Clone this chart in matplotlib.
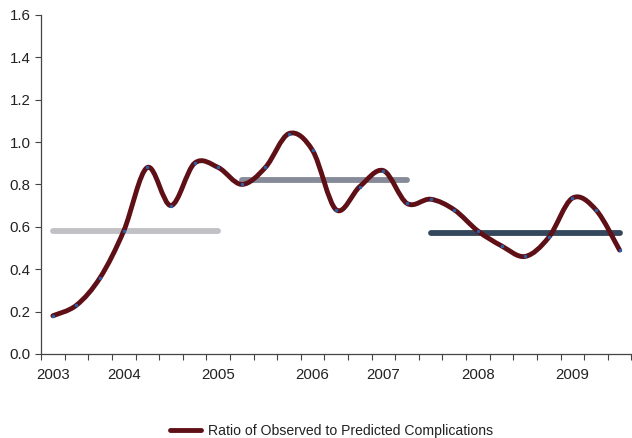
import matplotlib
matplotlib.use("Agg")
import matplotlib.pyplot as plt
import numpy as np
from matplotlib.path import Path
from matplotlib.patches import PathPatch
from matplotlib.lines import Line2D

categories = ["2003", "", "", "2004", "", "", "", "2005", "", "", "", "2006", "", "", "2007",
              "", "", "", "2008", "", "", "", "2009", "", ""]
ratio = [0.18, 0.23, 0.36, 0.58, 0.88, 0.70, 0.90, 0.88, 0.80, 0.88, 1.04, 0.96, 0.68, 0.79, 0.865,
         0.71, 0.73, 0.68, 0.58, 0.51, 0.46, 0.55, 0.735, 0.68, 0.49]
period_levels = [0.58, 0.82, 0.57]
period_ranges = [(0, 7), (8, 15), (16, 24)]
period_colors = ["#c0c0c5", "#878a98", "#35475c"]

plt.rcParams['font.family'] = ['Liberation Sans', 'DejaVu Sans']

fig = plt.figure(figsize=(6.32, 4.38), dpi=100)
ax = fig.add_axes([0.065, 0.192, 0.934, 0.774])

x = np.arange(len(ratio))
y = np.array(ratio, dtype=float)

# period average lines
for lvl, (a, b), c in zip(period_levels, period_ranges, period_colors):
    ax.plot([a, b], [lvl, lvl], color=c, lw=4.2, solid_capstyle='round', zorder=2)

# smoothed line (Catmull-Rom bezier, like spreadsheet smoothing)
verts = [(x[0], y[0])]
codes = [Path.MOVETO]
n = len(x)
for i in range(n - 1):
    p0 = np.array([x[max(i - 1, 0)], y[max(i - 1, 0)]])
    p1 = np.array([x[i], y[i]])
    p2 = np.array([x[i + 1], y[i + 1]])
    p3 = np.array([x[min(i + 2, n - 1)], y[min(i + 2, n - 1)]])
    c1 = p1 + (p2 - p0) / 6.0
    c2 = p2 - (p3 - p1) / 6.0
    verts += [tuple(c1), tuple(c2), tuple(p2)]
    codes += [Path.CURVE4] * 3
patch = PathPatch(Path(verts, codes), facecolor='none', edgecolor='#5e1016', lw=3.5,
                  capstyle='round', joinstyle='round', zorder=3)
ax.add_patch(patch)
ax.plot(x, y, linestyle='none', marker='s', markersize=1.3, color='#2a5fa8', zorder=4)

ax.set_xlim(-0.5, n - 0.5)
ax.set_ylim(0, 1.6)
ax.set_yticks(np.arange(0, 1.61, 0.2))
ax.set_yticklabels([f"{v:.1f}" for v in np.arange(0, 1.61, 0.2)])
ax.set_xticks(x)
ax.set_xticklabels(categories)
ax.set_xticks(np.arange(-0.5, n, 1.0), minor=True)
ax.tick_params(axis='x', which='major', length=0, pad=10, labelsize=10.8, colors='#222222')
ax.tick_params(axis='x', which='minor', length=4, width=0.8, direction='out', color='#444444')
ax.tick_params(axis='y', length=4, width=0.8, direction='out', labelsize=10.8, colors='#222222', color='#444444')
for s in ['top', 'right']:
    ax.spines[s].set_visible(False)
for s in ['left', 'bottom']:
    ax.spines[s].set_color('#444444')
    ax.spines[s].set_linewidth(0.9)

handle = Line2D([], [], color='#5e1016', lw=3.5, solid_capstyle='round')
fig.legend([handle], ["Ratio of Observed to Predicted Complications"], loc='center',
           bbox_to_anchor=(0.525, 0.016), frameon=False, fontsize=10.1, handlelength=2.2,
           handletextpad=0.5, labelcolor='#222222')

fig.savefig("out.png", dpi=100)
